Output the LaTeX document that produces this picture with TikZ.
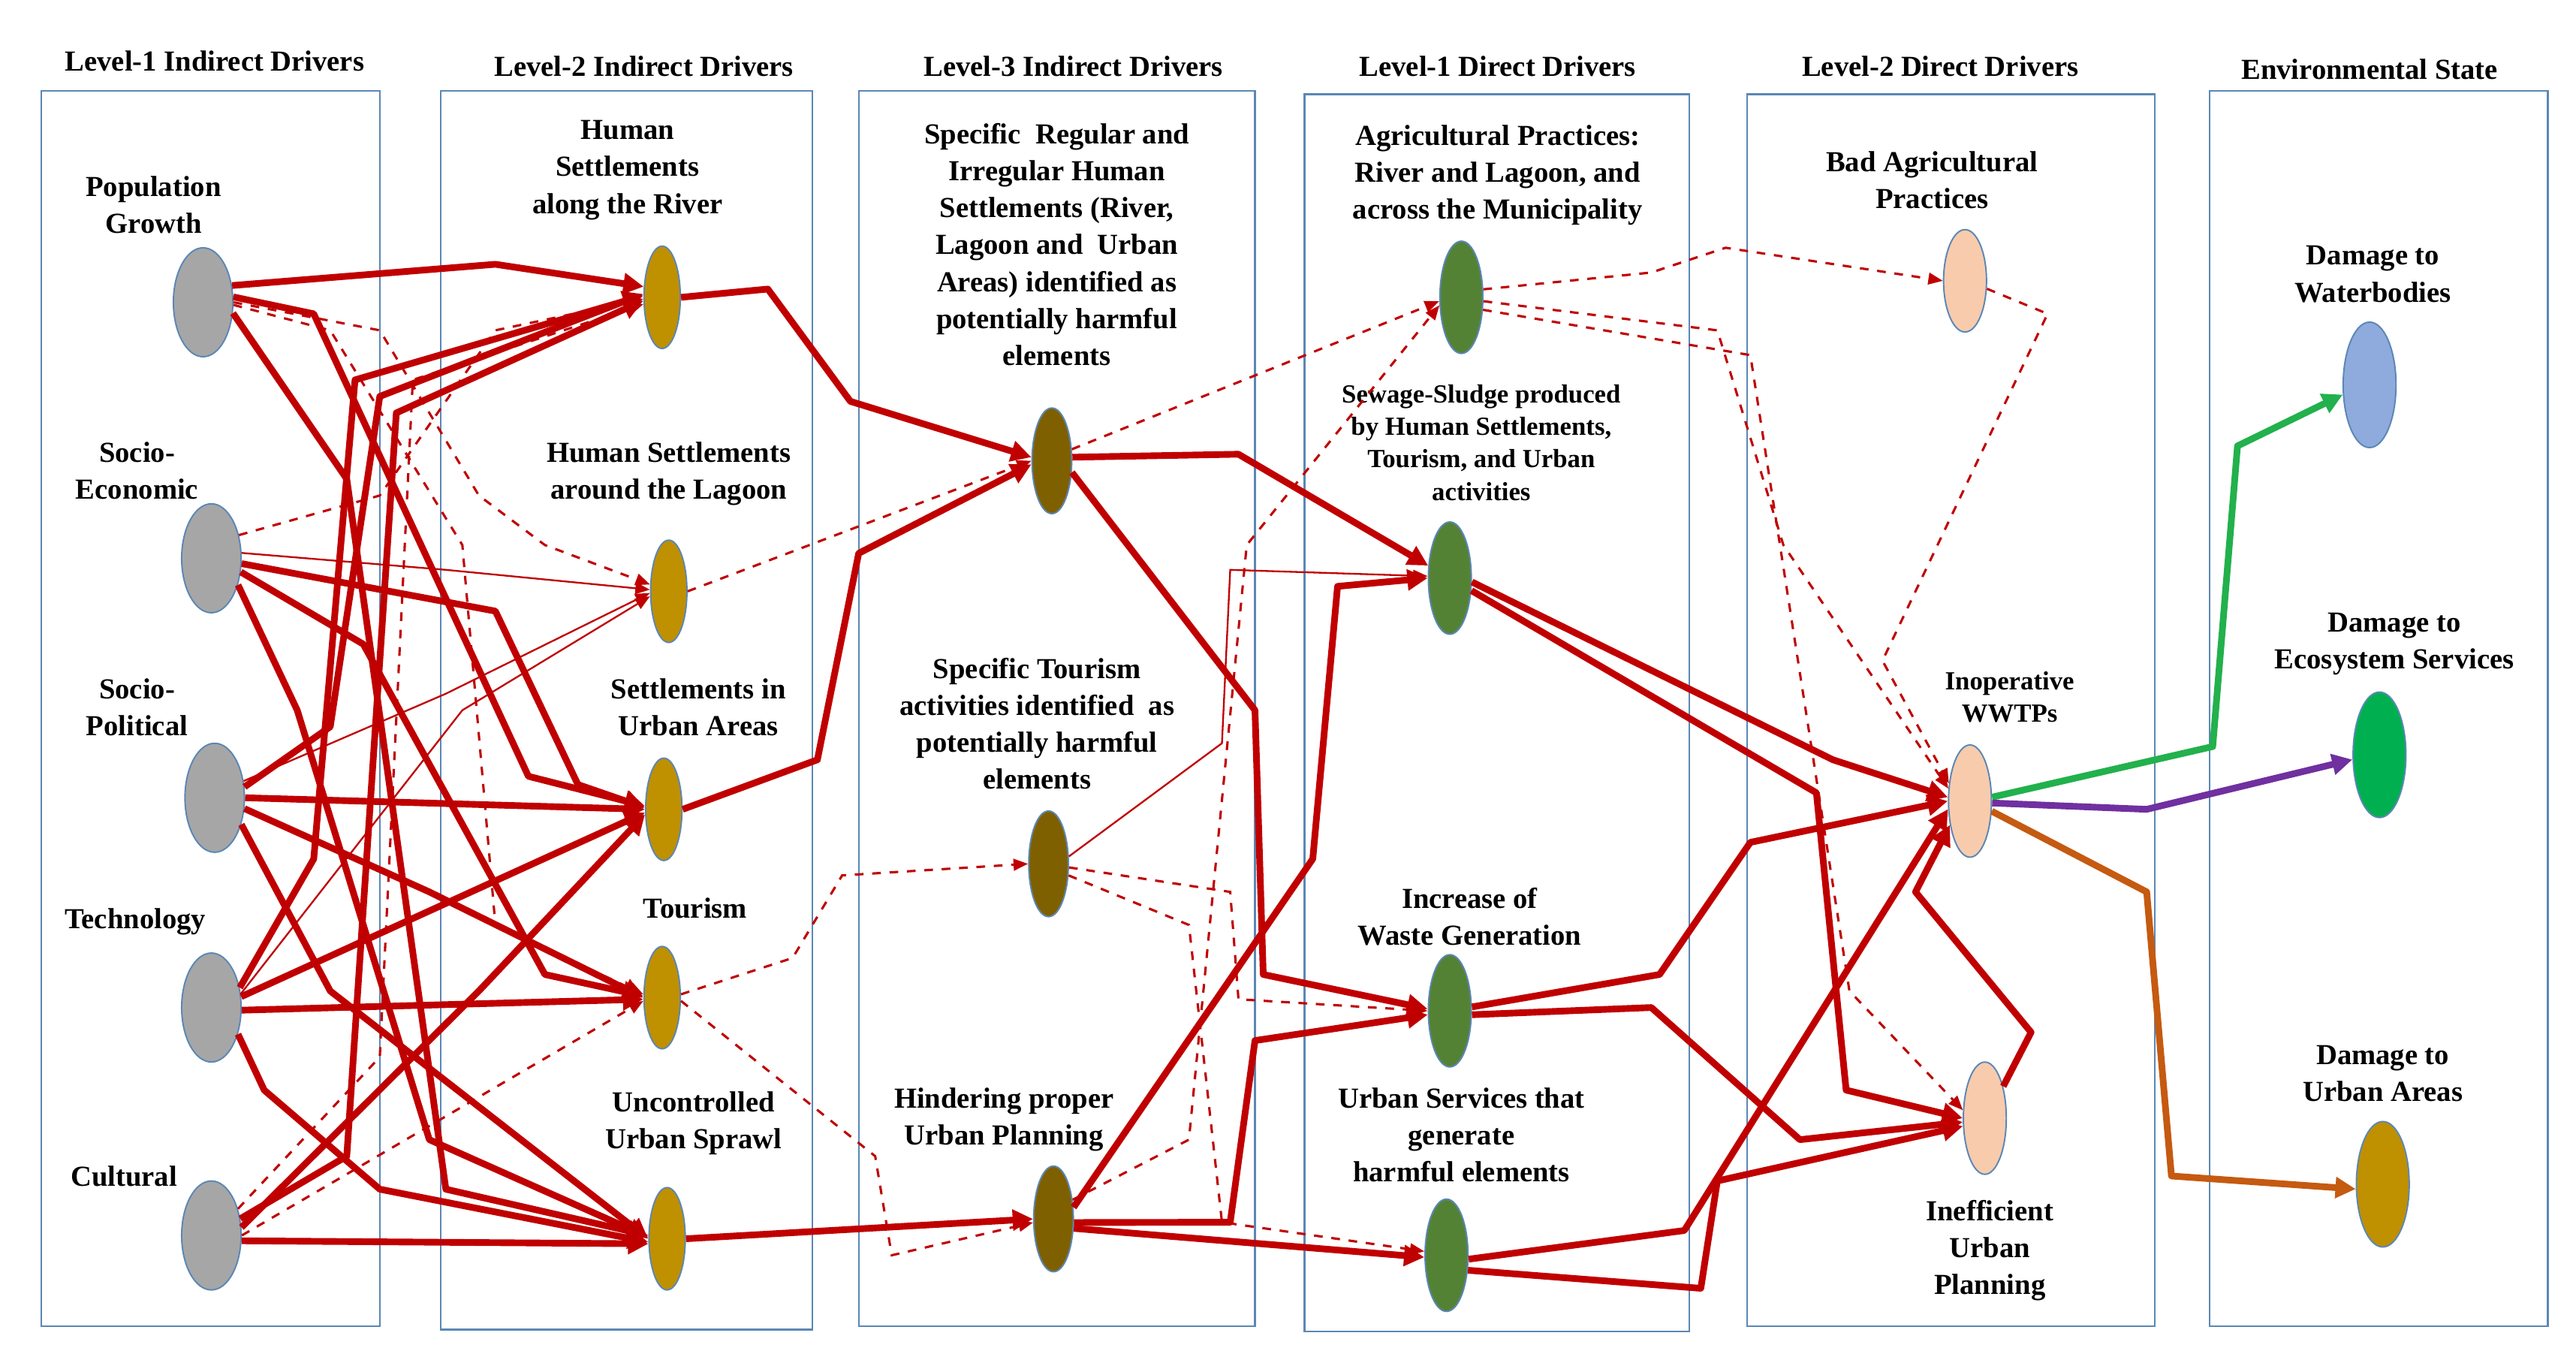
\documentclass[tikz,border=0pt]{standalone}
\usepackage{fontspec}
\setmainfont{Liberation Serif}
\usetikzlibrary{arrows.meta,shapes.geometric}
\definecolor{dred}{HTML}{C00000}
\definecolor{gold}{HTML}{BF9000}
\definecolor{brwn}{HTML}{7F6000}
\definecolor{grn}{HTML}{548235}
\definecolor{peach}{HTML}{F8CBAD}
\definecolor{lblue}{HTML}{8FAADC}
\definecolor{egreen}{HTML}{00B050}
\definecolor{lgreen}{HTML}{22B14C}
\definecolor{purp}{HTML}{7030A0}
\definecolor{rust}{HTML}{C55A11}
\definecolor{boxblue}{HTML}{5B87B5}
\begin{document}
\begin{tikzpicture}[x=0.02cm,y=-0.02cm,%
% common options for the column frames:
column/.style = {draw=boxblue, line width=0.6pt},
% common options for the ellipses:
drv/.style = {ellipse, draw=boxblue, line width=0.5pt, inner sep=0,
            minimum width=0.44cm, minimum height=1.24cm},
big/.style = {drv, minimum width=0.72cm, minimum height=1.32cm, fill=gray!70},
env/.style = {drv, minimum width=0.64cm, minimum height=1.52cm},
lbl/.style = {align=center, font=\bfseries\fontsize{10}{12.7}\selectfont},
slbl/.style = {align=center, font=\bfseries\fontsize{9}{11.2}\selectfont},
% common options for the links:
thk/.style = {draw=dred, line width=2.3pt, -{Triangle[length=7pt,width=7pt]}, line join=round},
thn/.style = {draw=dred, line width=0.6pt, -{Triangle[length=5pt,width=4pt]}},
dsh/.style = {draw=dred, line width=0.8pt, dashed, -{Triangle[length=5pt,width=4pt]}},
env link/.style = {line width=2.3pt, -{Triangle[length=7pt,width=7pt]}, line join=round}]
\useasboundingbox (0,0) rectangle (1560,823);
% columns
\draw[column] (25,55) rectangle (230,803);
\draw[column] (267,55) rectangle (492,805);
\draw[column] (520,55) rectangle (760,803);
\draw[column] (790,57) rectangle (1023,806);
\draw[column] (1058,57) rectangle (1305,803);
\draw[column] (1338,55) rectangle (1543,803);
\node[lbl] at (130,37) {Level-1 Indirect Drivers};
\node[lbl] at (390,40) {Level-2 Indirect Drivers};
\node[lbl] at (650,40) {Level-3 Indirect Drivers};
\node[lbl] at (907,40) {Level-1 Direct Drivers};
\node[lbl] at (1175,40) {Level-2 Direct Drivers};
\node[lbl] at (1435,42) {Environmental State};
% level-1 indirect
\node[big] (pop) at (123,183) {};
\node[big] (soceco) at (128,338) {};
\node[big] (socpol) at (130,483) {};
\node[big] (tech) at (128,610) {};
\node[big] (cult) at (128,748) {};
\node[lbl] at (93,124) {Population\\Growth};
\node[lbl] at (83,285) {Socio-\\Economic};
\node[lbl] at (83,428) {Socio-\\Political};
\node[lbl] at (82,558) {Technology};
\node[lbl] at (75,712) {Cultural};
% level-2 indirect
\node[drv, fill=gold] (hsriver) at (401,180) {};
\node[drv, fill=gold] (hslagoon) at (405,358) {};
\node[drv, fill=gold] (hsurban) at (402,490) {};
\node[drv, fill=gold] (tour) at (401,604) {};
\node[drv, fill=gold] (sprawl) at (404,750) {};
\node[lbl] at (380,103) {Human\\Settlements\\along the River};
\node[lbl] at (405,287) {Human Settlements\\around the Lagoon};
\node[lbl] at (423,428) {Settlements in\\Urban Areas};
\node[lbl] at (421,550) {Tourism};
\node[lbl] at (420,680) {Uncontrolled\\Urban Sprawl};
% level-3 indirect
\node[drv, fill=brwn, minimum width=0.48cm, minimum height=1.28cm] (spechs) at (637,279) {};
\node[drv, fill=brwn, minimum width=0.48cm, minimum height=1.28cm] (spectour) at (635,523) {};
\node[drv, fill=brwn, minimum width=0.48cm, minimum height=1.28cm] (hinder) at (638,738) {};
\node[lbl] at (640,148) {Specific\ \ Regular and\\Irregular Human\\Settlements (River,\\Lagoon and\ \ Urban\\Areas) identified as\\potentially harmful\\elements};
\node[lbl] at (628,438) {Specific Tourism\\activities identified\ \ as\\potentially harmful\\elements};
\node[lbl] at (608,678) {Hindering proper\\Urban Planning};
% level-1 direct
\node[drv, fill=grn, minimum width=0.52cm, minimum height=1.36cm] (agri) at (885,180) {};
\node[drv, fill=grn, minimum width=0.52cm, minimum height=1.36cm] (sewage) at (878,350) {};
\node[drv, fill=grn, minimum width=0.52cm, minimum height=1.36cm] (waste) at (878,612) {};
\node[drv, fill=grn, minimum width=0.52cm, minimum height=1.36cm] (urbserv) at (876,760) {};
\node[lbl] at (907,106) {Agricultural Practices:\\River and Lagoon, and\\across the Municipality};
\node[slbl] at (897,268) {Sewage-Sludge produced\\by Human Settlements,\\Tourism, and Urban\\activities};
\node[lbl] at (890,555) {Increase of\\Waste Generation};
\node[lbl] at (885,687) {Urban Services that\\generate\\harmful elements};
% level-2 direct
\node[drv, fill=peach, minimum width=0.52cm, minimum height=1.24cm] (badagri) at (1190,170) {};
\node[drv, fill=peach, minimum width=0.52cm, minimum height=1.36cm] (inop) at (1193,485) {};
\node[drv, fill=peach, minimum width=0.52cm, minimum height=1.36cm] (ineff) at (1202,677) {};
\node[lbl] at (1170,109) {Bad Agricultural\\Practices};
\node[slbl] at (1217,422) {Inoperative\\WWTPs};
\node[lbl] at (1205,757) {Inefficient\\Urban\\Planning};
% environmental state
\node[env, fill=lblue] (water) at (1435,233) {};
\node[env, fill=egreen] (eco) at (1441,457) {};
\node[env, fill=gold] (urbarea) at (1443,717) {};
\node[lbl] at (1437,166) {Damage to\\Waterbodies};
\node[lbl] at (1450,390) {Damage to\\Ecosystem Services};
\node[lbl] at (1443,650) {Damage to\\Urban Areas};
% level-1 -> level-2
\draw[thk] (pop.30) -- (300,160) -- (hsriver.150);
\draw[thk] (pop.10) -- (190,190) -- (320,470) -- (hsurban.170);
\draw[thk] (pop.-20) -- (210,290) -- (270,720) -- (sprawl.170);
\draw[dsh] (pop.0) -- (230,200) -- (290,300) -- (330,330) -- (hslagoon.160);
\draw[dsh] (pop.-5) -- (200,200) -- (280,330) -- (300,560) -- (tour.170);
\draw[thk] (soceco.-10) -- (300,370) -- (350,475) -- (hsurban.175);
\draw[thk] (soceco.-25) -- (220,390) -- (330,590) -- (tour.175);
\draw[thn] (soceco.10) -- (270,345) -- (hslagoon.175);
\draw[dsh] (soceco.40) -- (230,300) -- (300,200) -- (hsriver.185);
\draw[thk] (soceco.-45) -- (180,430) -- (260,690) -- (sprawl.175);
\draw[thk] (socpol.0) -- (hsurban.180);
\draw[thk] (socpol.-20) -- (260,540) -- (tour.180);
\draw[thk] (socpol.20) -- (200,440) -- (230,240) -- (hsriver.170);
\draw[thn] (socpol.30) -- (270,420) -- (hslagoon.185);
\draw[thk] (socpol.-45) -- (200,600) -- (sprawl.180);
\draw[thk] (tech.20) -- (hsurban.190);
\draw[thk] (tech.-5) -- (tour.185);
\draw[thk] (tech.35) -- (190,520) -- (215,230) -- (hsriver.175);
\draw[thn] (tech.25) -- (280,430) -- (hslagoon.195);
\draw[thk] (tech.-45) -- (160,660) -- (230,720) -- (sprawl.190);
\draw[thk] (cult.-10) -- (sprawl.195);
\draw[thk] (cult.30) -- (210,700) -- (240,250) -- (hsriver.190);
\draw[thk] (cult.15) -- (290,600) -- (hsurban.195);
\draw[dsh] (cult.0) -- (tour.190);
\draw[dsh] (cult.45) -- (230,640) -- (250,230) -- (hsriver.200);
% level-2 -> level-3
\draw[thk] (hsriver.east) -- (465,175) -- (515,243) -- (spechs.170);
\draw[thk] (hsurban.east) -- (495,460) -- (520,335) -- (spechs.190);
\draw[dsh] (hslagoon.east) -- (spechs.180);
\draw[dsh] (tour.10) -- (480,580) -- (510,530) -- (spectour.180);
\draw[dsh] (tour.-10) -- (530,700) -- (540,760) -- (hinder.190);
\draw[thk] (sprawl.east) -- (hinder.180);
% level-3 -> level-1 direct
\draw[thk] (spechs.10) -- (750,275) -- (sewage.150);
\draw[thk] (spechs.-30) -- (760,430) -- (765,590) -- (waste.175);
\draw[dsh] (spechs.30) -- (agri.190);
\draw[thn] (spectour.20) -- (740,450) -- (745,345) -- (sewage.175);
\draw[dsh] (spectour.-10) -- (745,540) -- (750,605) -- (waste.180);
\draw[dsh] (spectour.-30) -- (720,560) -- (740,740) -- (urbserv.170);
\draw[thk] (hinder.30) -- (795,520) -- (810,355) -- (sewage.180);
\draw[thk] (hinder.-10) -- (745,740) -- (760,630) -- (waste.190);
\draw[thk] (hinder.-25) -- (urbserv.185);
\draw[dsh] (hinder.45) -- (720,690) -- (755,330) -- (agri.200);
% level-1 direct -> level-2 direct
\draw[dsh] (agri.20) -- (1000,165) -- (1045,150) -- (badagri.180);
\draw[dsh] (agri.-10) -- (1040,200) -- (1080,330) -- (inop.150);
\draw[dsh] (agri.-30) -- (1060,215) -- (1120,600) -- (ineff.160);
\draw[thk] (sewage.-10) -- (1110,460) -- (inop.170);
\draw[thk] (sewage.-30) -- (1100,480) -- (1118,660) -- (ineff.180);
\draw[thk] (waste.10) -- (1005,590) -- (1060,510) -- (inop.180);
\draw[thk] (waste.-10) -- (1000,610) -- (1090,690) -- (ineff.190);
\draw[thk] (urbserv.-10) -- (1020,745) -- (inop.200);
\draw[thk] (urbserv.-35) -- (1030,780) -- (1040,715) -- (ineff.200);
\draw[dsh] (badagri.-20) -- (1240,190) -- (1140,400) -- (inop.140);
\draw[thk] (ineff.60) -- (1230,625) -- (1160,540) -- (inop.230);
% level-2 direct -> environmental state
\draw[env link, draw=lgreen] (inop.10) -- (1340,452) -- (1355,270) -- (water.200);
\draw[env link, draw=purp] (inop.-5) -- (1300,490) -- (eco.190);
\draw[env link, draw=rust] (inop.-25) -- (1300,540) -- (1315,712) -- (urbarea.190);
\end{tikzpicture}
\end{document}
